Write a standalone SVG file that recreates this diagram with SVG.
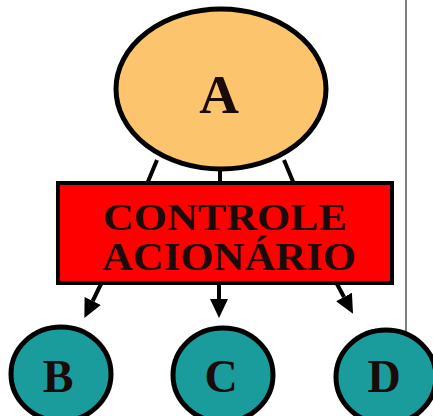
<svg xmlns="http://www.w3.org/2000/svg" width="433" height="416" viewBox="0 0 433 416">
<style>
.node{stroke:#000;stroke-width:5}
.lbl{font-family:"Liberation Serif","Times New Roman",serif;font-weight:bold;fill:#1a0a0a;text-anchor:middle}
.conn line{stroke:#000;stroke-width:4}
</style>
<defs>
<marker id="ah" markerUnits="userSpaceOnUse" markerWidth="20" markerHeight="20" viewBox="0 -10 20 20" refX="0" refY="0" orient="auto">
<path d="M0,-9 L19,0 L0,9 z" fill="#000"/>
</marker>
</defs>
<rect width="433" height="416" fill="#fff"/>
<line x1="406" y1="0" x2="406" y2="332" stroke="#555" stroke-width="1.5"/>
<g id="connectors" class="conn">
<line x1="157" y1="160" x2="147" y2="184"/>
<line x1="220" y1="168" x2="220" y2="184"/>
<line x1="284" y1="160" x2="294" y2="184"/>
<line x1="101" y1="284" x2="92.7" y2="301" marker-end="url(#ah)"/>
<line x1="219" y1="284" x2="219" y2="299" marker-end="url(#ah)"/>
<line x1="337" y1="284" x2="344" y2="297" marker-end="url(#ah)"/>
</g>
<g id="nodeA">
<ellipse class="node" cx="221" cy="89" rx="105" ry="80" fill="#FBC46D"/>
<text class="lbl" x="219" y="113" font-size="55">A</text>
</g>
<g id="controle">
<rect x="58" y="183" width="334" height="100" fill="#FF0000" stroke="#000" stroke-width="4"/>
<text class="lbl" x="225" y="230" font-size="38" textLength="244" lengthAdjust="spacingAndGlyphs" fill="#2a0000">CONTROLE</text>
<text class="lbl" x="229" y="270" font-size="40" textLength="254" lengthAdjust="spacingAndGlyphs" fill="#2a0000">ACIONÁRIO</text>
</g>
<g id="nodeB">
<ellipse class="node" cx="61" cy="374" rx="50" ry="47" fill="#1B9C9C"/>
<text class="lbl" x="58" y="392" font-size="46">B</text>
</g>
<g id="nodeC">
<ellipse class="node" cx="223" cy="375" rx="50" ry="47" fill="#1B9C9C"/>
<text class="lbl" x="221" y="392" font-size="46">C</text>
</g>
<g id="nodeD">
<ellipse class="node" cx="386" cy="377" rx="50" ry="47" fill="#1B9C9C"/>
<text class="lbl" x="384" y="392" font-size="46">D</text>
</g>
</svg>
